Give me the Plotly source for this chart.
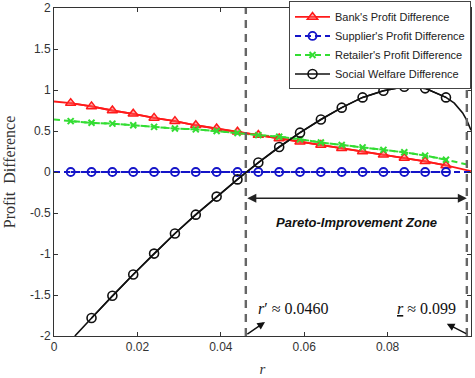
import plotly.graph_objects as go

# marker positions (x) shared by all series
r_marks = [0.004, 0.009, 0.014, 0.019, 0.024, 0.029, 0.034, 0.039, 0.044, 0.049,
           0.054, 0.059, 0.064, 0.069, 0.074, 0.079, 0.084, 0.089, 0.094]

bank_marks = [0.84, 0.80, 0.75, 0.71, 0.66, 0.62, 0.57, 0.53, 0.49, 0.45,
              0.41, 0.37, 0.33, 0.29, 0.25, 0.21, 0.17, 0.13, 0.08]
supplier_marks = [0.0] * 19
retailer_marks = [0.62, 0.60, 0.59, 0.57, 0.55, 0.53, 0.52, 0.50, 0.475, 0.45,
                  0.43, 0.40, 0.36, 0.33, 0.30, 0.27, 0.24, 0.20, 0.15]
welfare_marks = [-1.78, -1.51, -1.25, -0.995, -0.75, -0.52, -0.30, -0.09, 0.115, 0.305,
                 0.48, 0.64, 0.785, 0.91, 0.99, 1.04, 1.02, 0.91]
welfare_mark_x = r_marks[1:]

# full line curves (include end points)
r_line = [0.0] + r_marks + [0.1]
bank_line = [0.86] + bank_marks + [0.01]
supplier_line = [0.0] + supplier_marks + [0.0]
retailer_line = [0.64] + retailer_marks + [0.08]
welfare_line_x = [0.005] + welfare_mark_x + [0.096, 0.098, 0.099, 0.1]
welfare_line = [-2.0] + welfare_marks + [0.84, 0.72, 0.63, 0.51]

r_prime = 0.046
r_under = 0.099

x_ticks = [0, 0.02, 0.04, 0.06, 0.08, 0.1]
x_ticklabels = ["0", "0.02", "0.04", "0.06", "0.08", "0.1"]
y_ticks = [-2, -1.5, -1, -0.5, 0, 0.5, 1, 1.5, 2]
y_ticklabels = ["-2", "-1.5", "-1", "-0.5", "0", "0.5", "1", "1.5", "2"]

RED = "#ff1a1a"
BLUE = "#1414c8"
GREEN = "#33dd33"
BLACK = "#111111"

fig = go.Figure()

# line-only underlays
fig.add_trace(go.Scatter(x=r_line, y=bank_line, mode="lines",
                         line=dict(color=RED, width=1.8), showlegend=False, hoverinfo="skip"))
fig.add_trace(go.Scatter(x=r_line, y=supplier_line, mode="lines",
                         line=dict(color=BLUE, width=2, dash="6px,4px"), showlegend=False, hoverinfo="skip"))
fig.add_trace(go.Scatter(x=r_line, y=retailer_line, mode="lines",
                         line=dict(color=GREEN, width=2, dash="6px,4px"), showlegend=False, hoverinfo="skip"))
fig.add_trace(go.Scatter(x=welfare_line_x, y=welfare_line, mode="lines",
                         line=dict(color=BLACK, width=1.6), showlegend=False, hoverinfo="skip"))

# marker traces with legend
fig.add_trace(go.Scatter(x=r_marks, y=bank_marks, mode="lines+markers",
                         name="Bank's Profit Difference",
                         line=dict(color=RED, width=1.8),
                         marker=dict(symbol="triangle-up", size=9, color="rgba(255,90,90,0.5)",
                                     line=dict(color=RED, width=1.5))))
fig.add_trace(go.Scatter(x=r_marks, y=supplier_marks, mode="lines+markers",
                         name="Supplier's Profit Difference",
                         line=dict(color=BLUE, width=2, dash="6px,4px"),
                         marker=dict(symbol="circle-open", size=8, color=BLUE,
                                     line=dict(width=1.8))))
fig.add_trace(go.Scatter(x=r_marks, y=retailer_marks, mode="lines+markers",
                         name="Retailer's Profit Difference",
                         line=dict(color=GREEN, width=2, dash="6px,4px"),
                         marker=dict(symbol="x-thin-open", size=6, color=GREEN,
                                     line=dict(width=2, color=GREEN))))
fig.add_trace(go.Scatter(x=welfare_mark_x, y=welfare_marks, mode="lines+markers",
                         name="Social Welfare Difference",
                         line=dict(color=BLACK, width=1.6),
                         marker=dict(symbol="circle-open", size=9, color=BLACK,
                                     line=dict(width=1.6))))

# vertical dashed boundaries
for xv in [r_prime, r_under]:
    fig.add_shape(type="line", xref="x", yref="y", x0=xv, x1=xv, y0=-2, y1=2,
                  line=dict(color="#666666", width=2.4, dash="8px,6px"))

# double-headed arrow for the zone
fig.add_annotation(x=r_under, y=-0.32, ax=r_prime, ay=-0.32, xref="x", yref="y",
                   axref="x", ayref="y", text="", showarrow=True,
                   arrowhead=2, arrowside="end+start", arrowsize=1.2,
                   arrowwidth=1.5, arrowcolor="#222222")
fig.add_annotation(x=0.0726, y=-0.61, xref="x", yref="y", showarrow=False,
                   text="<b><i>Pareto-Improvement Zone</i></b>",
                   font=dict(family="Liberation Sans, Arial", size=13, color="#111111"))

# r' label and arrow
fig.add_annotation(x=0.0484, y=-1.66, xref="x", yref="y", showarrow=False,
                   xanchor="left", text="<i>r</i>′ ≈ 0.0460",
                   font=dict(family="Liberation Serif, Times New Roman", size=16, color="#111111"))
fig.add_annotation(x=0.0506, y=-1.83, ax=r_prime, ay=-1.99, xref="x", yref="y",
                   axref="x", ayref="y", text="", showarrow=True, arrowhead=2,
                   arrowsize=1.1, arrowwidth=1.4, arrowcolor="#111111")

# r underline label and arrow
fig.add_annotation(x=0.0970, y=-1.66, xref="x", yref="y", showarrow=False,
                   xanchor="right", text="<u><i>r</i></u> ≈ 0.099",
                   font=dict(family="Liberation Serif, Times New Roman", size=16, color="#111111"))
fig.add_annotation(x=0.0942, y=-1.85, ax=0.0992, ay=-1.98, xref="x", yref="y",
                   axref="x", ayref="y", text="", showarrow=True, arrowhead=2,
                   arrowsize=1.1, arrowwidth=1.4, arrowcolor="#111111")

axis_common = dict(showline=True, linecolor="#333333", linewidth=1, mirror="ticks",
                   ticks="inside", ticklen=4, tickcolor="#333333", showgrid=False,
                   zeroline=False, tickfont=dict(family="Liberation Sans, Arial", size=12, color="#333333"))

fig.update_layout(
    width=475, height=378,
    margin=dict(l=54, r=4, t=8, b=42, autoexpand=False),
    paper_bgcolor="white", plot_bgcolor="white",
    xaxis=dict(range=[0, 0.1], tickvals=x_ticks, ticktext=x_ticklabels,
               title=dict(text="<i>r</i>", standoff=10,
                          font=dict(family="Liberation Serif, Times New Roman", size=15, color="#333333")),
               **axis_common),
    yaxis=dict(range=[-2, 2], tickvals=y_ticks, ticktext=y_ticklabels,
               title=dict(text="Profit  Difference", standoff=10,
                          font=dict(family="Liberation Serif, Times New Roman", size=16, color="#333333")),
               **axis_common),
    legend=dict(x=1, y=1.02, xanchor="right", yanchor="top", bgcolor="white",
                bordercolor="#444444", borderwidth=1, itemwidth=35, tracegroupgap=0,
                font=dict(family="Liberation Sans, Arial", size=11, color="#222222")),
    showlegend=True,
)

fig.write_html("out.html", config={"displayModeBar": False},
               post_script="document.body.style.margin='0';document.body.style.overflow='hidden';")
